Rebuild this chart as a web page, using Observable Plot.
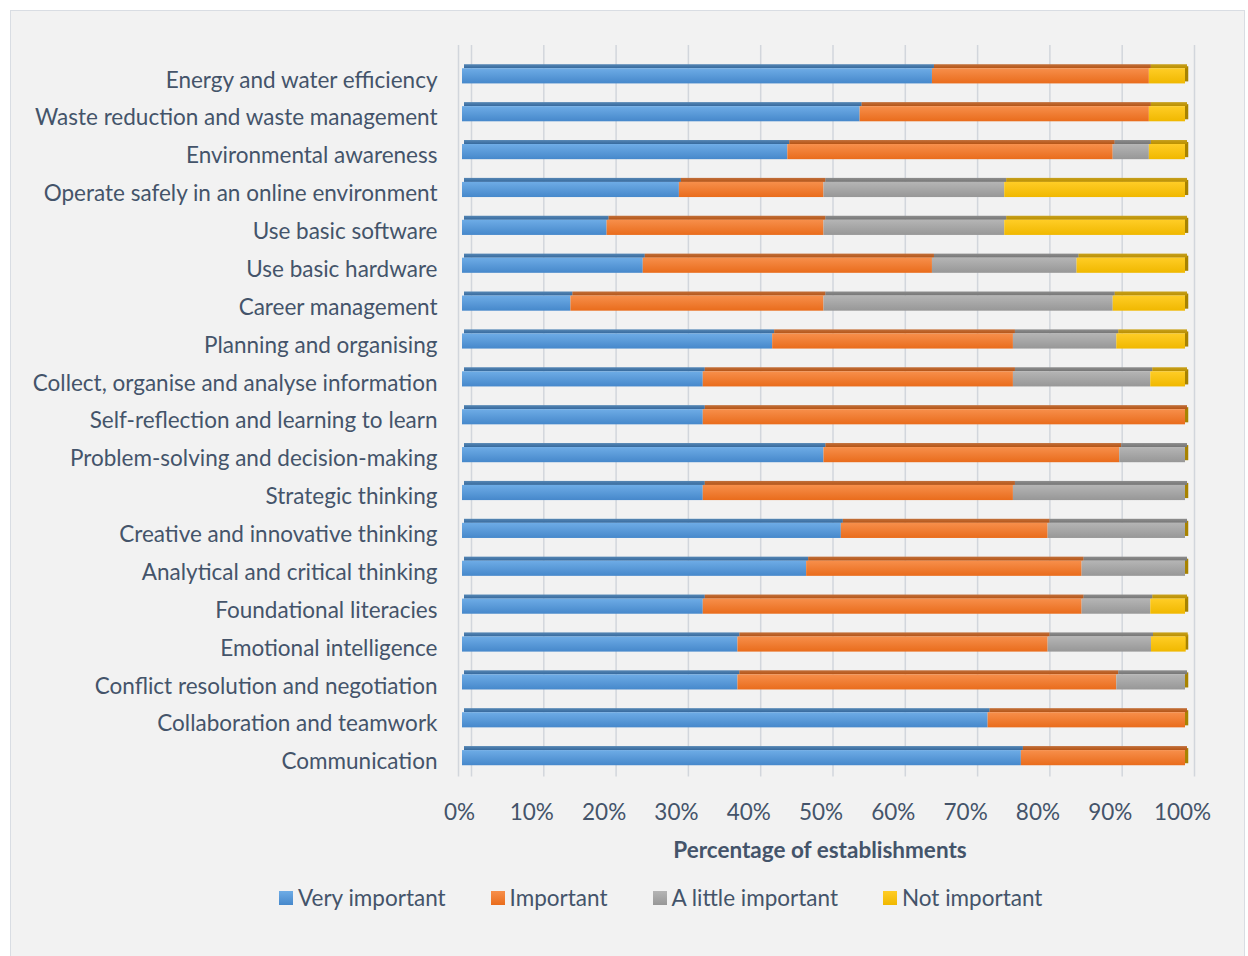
<!DOCTYPE html>
<html>
<head>
<meta charset="utf-8">
<script src="https://cdn.jsdelivr.net/npm/d3@7"></script>
<script src="https://cdn.jsdelivr.net/npm/@observablehq/plot@0.6"></script>
<style>
  html, body { margin: 0; padding: 0; background: #ffffff; width: 1248px; height: 956px; overflow: hidden; }
  #box { position: absolute; left: 10px; top: 10px; width: 1235px; height: 960px; background: #f2f2f2; border: 1px solid #d9dde3; box-sizing: border-box; }
  #chart { position: absolute; left: 0; top: 0; }
  #xtitle { position: absolute; left: 0; width: 1640px; top: 836px; text-align: center; font: bold 22.5px Lato, "Open Sans", sans-serif; color: #44546a; }
  #legend { position: absolute; left: 279px; top: 884px; display: flex; gap: 45px; font: 22.5px Lato, "Open Sans", sans-serif; color: #44546a; white-space: nowrap; }
  .item { display: flex; align-items: center; }
  .sw { width: 14px; height: 14px; margin-right: 5px; }
</style>
</head>
<body>
<svg width="0" height="0" style="position:absolute">
  <defs>
    <linearGradient id="gBlue" x1="0" y1="0" x2="0" y2="1"><stop offset="0" stop-color="#6eace6"/><stop offset="1" stop-color="#4688cb"/></linearGradient>
    <linearGradient id="gOrange" x1="0" y1="0" x2="0" y2="1"><stop offset="0" stop-color="#f78f4b"/><stop offset="1" stop-color="#e96c1c"/></linearGradient>
    <linearGradient id="gGray" x1="0" y1="0" x2="0" y2="1"><stop offset="0" stop-color="#b5b5b5"/><stop offset="1" stop-color="#979797"/></linearGradient>
    <linearGradient id="gYellow" x1="0" y1="0" x2="0" y2="1"><stop offset="0" stop-color="#ffcd26"/><stop offset="1" stop-color="#f0b800"/></linearGradient>
  </defs>
</svg>
<div id="box"></div>
<div id="chart"></div>
<div id="xtitle"></div>
<div id="legend"></div>
<script>
const skills = [
  "Energy and water efficiency",
  "Waste reduction and waste management",
  "Environmental awareness",
  "Operate safely in an online environment",
  "Use basic software",
  "Use basic hardware",
  "Career management",
  "Planning and organising",
  "Collect, organise and analyse information",
  "Self-reflection and learning to learn",
  "Problem-solving and decision-making",
  "Strategic thinking",
  "Creative and innovative thinking",
  "Analytical and critical thinking",
  "Foundational literacies",
  "Emotional intelligence",
  "Conflict resolution and negotiation",
  "Collaboration and teamwork",
  "Communication"
];
const levels = ["Very important", "Important", "A little important", "Not important"];
const veryImportant    = [65, 55, 45, 30, 20, 25, 15, 42.9, 33.3, 33.3, 50, 33.3, 52.4, 47.6, 33.3, 38.1, 38.1, 72.7, 77.3];
const important        = [30, 40, 45, 20, 30, 40, 35, 33.3, 42.9, 66.7, 40.9, 42.9, 28.6, 38.1, 52.4, 42.9, 52.4, 27.3, 22.7];
const aLittleImportant = [0, 0, 5, 25, 25, 20, 40, 14.3, 19.0, 0, 9.1, 23.8, 19.0, 14.3, 9.5, 14.3, 9.5, 0, 0];
const notImportant     = [5, 5, 5, 25, 25, 15, 10, 9.5, 4.8, 0, 0, 0, 0, 0, 4.8, 4.8, 0, 0, 0];
const xTicks = [0, 10, 20, 30, 40, 50, 60, 70, 80, 90, 100];
const xTitle = "Percentage of establishments";

const fills = ["url(#gBlue)", "url(#gOrange)", "url(#gGray)", "url(#gYellow)"];
const swatches = ["linear-gradient(#6eace6,#4688cb)", "linear-gradient(#f78f4b,#e96c1c)", "linear-gradient(#b5b5b5,#979797)", "linear-gradient(#ffcd26,#f0b800)"];

const series = [veryImportant, important, aLittleImportant, notImportant];
const data = skills.flatMap((s, i) => levels.map((l, j) => ({skill: s, level: l, value: series[j][i]})));

const font = "Lato, 'Open Sans', sans-serif";
const hasAxisMarks = typeof Plot.axisY === "function";

const marks = [
  Plot.ruleX(xTicks, {dx: 9, stroke: "#d2d6dc", strokeWidth: 1.5}),
  Plot.ruleX([0], {dx: -4, stroke: "#d2d6dc", strokeWidth: 1.5}),
  // right end caps (3D side)
  Plot.barX(skills, {x1: 100, x2: 100.45, y: d => d, dy: -2, fill: "#a88300"}),
  // top faces (3D)
  Plot.barX(data, {x: "value", y: "skill", z: "level", fill: "level", dx: 2, dy: -4, insetBottom: 11.15}),
  Plot.barX(data, {x: "value", y: "skill", z: "level", fill: "#000", fillOpacity: 0.22, dx: 2, dy: -4, insetBottom: 11.15}),
  // front faces
  Plot.barX(data, {x: "value", y: "skill", z: "level", fill: "level"})
];
if (hasAxisMarks) {
  marks.push(Plot.axisY({tickSize: 0, tickPadding: 25, dy: 4, label: null}));
  marks.push(Plot.axisX({ticks: xTicks, tickFormat: d => d + "%", tickSize: 0, tickPadding: 27, dx: -3, label: null}));
}

const plot = Plot.plot({
  width: 1248,
  height: 830,
  marginLeft: 462,
  marginRight: 63,
  marginTop: 45,
  marginBottom: 53.4,
  style: {fontSize: "22.5px", fontFamily: font, color: "#44546a", background: "transparent", overflow: "visible"},
  x: {domain: [0, 100], ticks: xTicks, tickFormat: d => d + "%", tickSize: 0, tickPadding: 27, label: null},
  y: {domain: skills, range: [56.9, 776.6], round: false, paddingInner: 0.6, paddingOuter: 0.3, tickSize: 0, tickPadding: 25, label: null},
  color: {domain: levels, range: fills},
  marks
});
document.getElementById("chart").appendChild(plot);

document.getElementById("xtitle").textContent = xTitle;
const lg = d3.select("#legend");
levels.forEach((l, j) => {
  const it = lg.append("div").attr("class", "item");
  it.append("div").attr("class", "sw").style("background", swatches[j]);
  it.append("span").text(l);
});
</script>
</body>
</html>
